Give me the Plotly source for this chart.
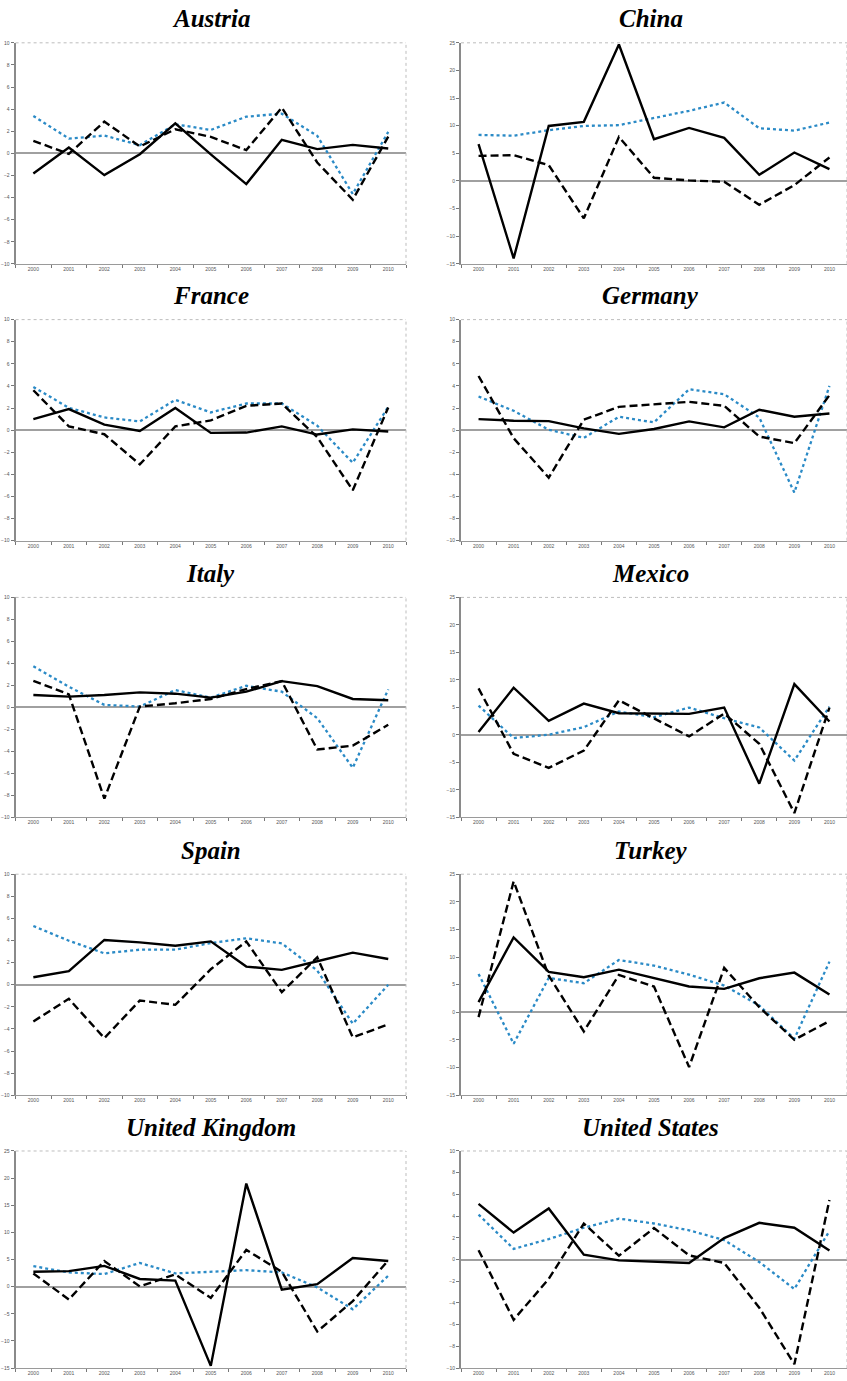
import plotly.graph_objects as go

years = ["2000", "2001", "2002", "2003", "2004", "2005", "2006", "2007", "2008", "2009", "2010"]

countries = ["Austria", "China", "France", "Germany", "Italy", "Mexico",
             "Spain", "Turkey", "United Kingdom", "United States"]

# solid black, dashed black, dotted blue series per country
austria_solid = [-1.82, 0.53, -1.97, -0.08, 2.72, -0.1, -2.78, 1.22, 0.38, 0.77, 0.44]
austria_dashed = [1.13, -0.05, 2.87, 0.62, 2.18, 1.49, 0.29, 4.14, -0.83, -4.2, 1.52]
austria_dotted = [3.38, 1.34, 1.61, 0.74, 2.63, 2.12, 3.32, 3.59, 1.58, -3.68, 1.94]

china_solid = [6.65, -14.0, 9.96, 10.7, 24.7, 7.55, 9.6, 7.8, 1.12, 5.15, 2.14]
china_dashed = [4.55, 4.67, 2.86, -6.76, 7.98, 0.58, 0.1, -0.14, -4.3, -0.75, 4.25]
china_dotted = [8.33, 8.2, 9.18, 9.96, 10.1, 11.35, 12.7, 14.2, 9.54, 9.12, 10.57]

france_solid = [1.0, 1.9, 0.5, -0.07, 2.0, -0.25, -0.22, 0.34, -0.4, 0.07, -0.13]
france_dashed = [3.61, 0.34, -0.37, -3.1, 0.34, 0.88, 2.2, 2.41, -0.64, -5.44, 2.05]
france_dotted = [3.91, 2.02, 1.15, 0.79, 2.74, 1.6, 2.41, 2.41, 0.4, -2.95, 2.11]

germany_solid = [1.0, 0.85, 0.82, 0.16, -0.34, 0.1, 0.79, 0.25, 1.84, 1.21, 1.51]
germany_dashed = [4.9, -0.73, -4.3, 0.94, 2.11, 2.35, 2.56, 2.2, -0.58, -1.18, 3.16]
germany_dotted = [3.04, 1.75, 0.04, -0.7, 1.21, 0.7, 3.7, 3.25, 1.15, -5.65, 4.0]

italy_solid = [1.13, 0.98, 1.13, 1.37, 1.25, 0.89, 1.43, 2.39, 1.94, 0.77, 0.65]
italy_dashed = [2.42, 1.19, -8.29, 0.08, 0.38, 0.77, 1.67, 2.39, -3.83, -3.47, -1.58]
italy_dotted = [3.74, 1.88, 0.23, 0.08, 1.58, 0.89, 1.97, 1.43, -0.98, -5.49, 1.64]

mexico_solid = [0.52, 8.58, 2.56, 5.69, 3.95, 3.83, 3.83, 4.97, -8.87, 9.24, 2.44]
mexico_dashed = [8.46, -3.45, -5.98, -2.85, 6.29, 3.04, -0.27, 3.88, -1.6, -14.2, 4.97]
mexico_dotted = [5.33, -0.57, 0.04, 1.42, 4.25, 3.22, 4.97, 3.04, 1.36, -4.66, 5.15]

spain_solid = [0.68, 1.22, 4.05, 3.83, 3.53, 3.92, 1.64, 1.34, 2.12, 2.9, 2.33]
spain_dashed = [-3.32, -1.28, -4.83, -1.43, -1.82, 1.4, 3.92, -0.68, 2.48, -4.77, -3.59]
spain_dotted = [5.31, 3.98, 2.84, 3.17, 3.17, 3.77, 4.2, 3.74, 1.28, -3.53, 0.0]

turkey_solid = [1.84, 13.57, 7.31, 6.35, 7.73, 6.17, 4.67, 4.25, 6.17, 7.19, 3.22]
turkey_dashed = [-0.87, 23.7, 6.65, -3.45, 6.77, 4.67, -9.89, 8.04, 0.94, -4.96, -1.59]
turkey_dotted = [6.95, -5.68, 6.23, 5.27, 9.48, 8.46, 6.83, 4.85, 1.24, -4.78, 9.18]

uk_solid = [2.74, 2.86, 3.83, 1.42, 1.12, -14.6, 19.0, -0.57, 0.46, 5.27, 4.73]
uk_dashed = [2.44, -2.37, 4.73, 0.04, 2.26, -2.07, 6.77, 2.74, -8.27, -2.67, 4.85]
uk_dotted = [3.77, 2.62, 2.32, 4.37, 2.44, 2.74, 3.04, 2.62, -0.14, -4.17, 2.02]

us_solid = [5.13, 2.48, 4.71, 0.44, -0.08, -0.23, -0.32, 1.97, 3.38, 2.93, 0.83]
us_dashed = [0.86, -5.55, -1.79, 3.32, 0.35, 2.9, 0.38, -0.32, -4.44, -9.64, 5.49]
us_dotted = [4.14, 0.98, 1.88, 2.93, 3.77, 3.32, 2.69, 1.79, -0.23, -2.72, 2.63]

series = [
    (austria_solid, austria_dashed, austria_dotted),
    (china_solid, china_dashed, china_dotted),
    (france_solid, france_dashed, france_dotted),
    (germany_solid, germany_dashed, germany_dotted),
    (italy_solid, italy_dashed, italy_dotted),
    (mexico_solid, mexico_dashed, mexico_dotted),
    (spain_solid, spain_dashed, spain_dotted),
    (turkey_solid, turkey_dashed, turkey_dotted),
    (uk_solid, uk_dashed, uk_dotted),
    (us_solid, us_dashed, us_dotted),
]

small_range = [-10, 10]
large_range = [-15, 25]
y_ranges = [small_range, large_range, small_range, small_range, small_range,
            large_range, small_range, large_range, large_range, small_range]

W, H = 847, 1381
col_px = [(15.6, 406.0), (461.0, 847.0)]
row_px = [(40, 262), (318, 540), (597, 818), (875, 1097), (1153, 1371)]

BLUE = "#2a8ac6"
fig = go.Figure()
layout = {}
shapes = []
annotations = []

for i, name in enumerate(countries):
    r, c = divmod(i, 2)
    k = i + 1
    xa = "x" if k == 1 else f"x{k}"
    ya = "y" if k == 1 else f"y{k}"
    solid, dashed, dotted = series[i]
    fig.add_trace(go.Scatter(x=years, y=dotted, mode="lines", xaxis=xa, yaxis=ya,
                             line=dict(color=BLUE, width=2.3, dash="dot"), showlegend=False))
    fig.add_trace(go.Scatter(x=years, y=dashed, mode="lines", xaxis=xa, yaxis=ya,
                             line=dict(color="black", width=2.4, dash="8px,4px"), showlegend=False))
    fig.add_trace(go.Scatter(x=years, y=solid, mode="lines", xaxis=xa, yaxis=ya,
                             line=dict(color="black", width=2.4), showlegend=False))

    x0, x1 = col_px[c]
    t, b = row_px[r]
    lo, hi = y_ranges[i]
    dtick = 2 if hi == 10 else 5
    layout["xaxis" if k == 1 else f"xaxis{k}"] = dict(
        domain=[x0 / W, x1 / W], anchor=ya, type="category", range=[-0.5, 10.5],
        showgrid=False, zeroline=False, showline=True, linecolor="#9a9a9a", linewidth=1,
        ticks="outside", tickson="boundaries", ticklen=3, tickcolor="#777",
        tickfont=dict(size=5, color="#555", family="Arial, Liberation Sans"),
        fixedrange=True,
    )
    layout["yaxis" if k == 1 else f"yaxis{k}"] = dict(
        domain=[1 - b / H, 1 - t / H], anchor=xa, range=[lo, hi], dtick=dtick,
        showgrid=False, zeroline=True, zerolinecolor="#a0a0a0", zerolinewidth=1.5,
        showline=True, linecolor="#8a8a8a", linewidth=2,
        ticks="outside", ticklen=3, tickcolor="#777",
        tickfont=dict(size=5, color="#555", family="Arial, Liberation Sans"),
        fixedrange=True,
    )
    # dotted top and right borders of plot area
    shapes.append(dict(type="line", xref=f"{xa} domain", yref=f"{ya} domain",
                       x0=0, x1=1, y0=1, y1=1, line=dict(color="#bdbdbd", width=1, dash="dot")))
    shapes.append(dict(type="line", xref=f"{xa} domain", yref=f"{ya} domain",
                       x0=1, x1=1, y0=0, y1=1, line=dict(color="#bdbdbd", width=1, dash="dot")))
    annotations.append(dict(
        text=f"<b><i>{name}</i></b>", xref="paper", yref="paper",
        x=(x0 + x1) / 2 / W - (0.004 if c == 1 else 0), y=1 - (t - 24) / H,
        xanchor="center", yanchor="middle", showarrow=False,
        font=dict(family="Liberation Serif, Times New Roman, serif", size=25, color="black"),
    ))

fig.update_layout(
    width=W, height=H, margin=dict(l=0, r=0, t=0, b=0),
    paper_bgcolor="white", plot_bgcolor="white",
    shapes=shapes, annotations=annotations, showlegend=False,
    **layout,
)

fig.write_html("out.html", config={"displayModeBar": False},
               post_script="document.body.style.margin='0';document.body.style.padding='0';")
